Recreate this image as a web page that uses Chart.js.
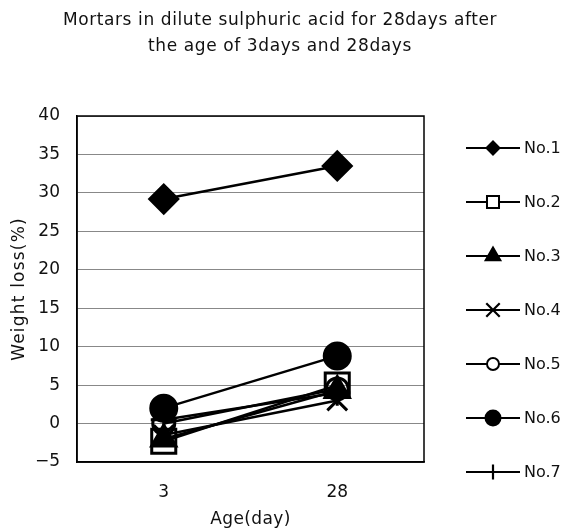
<!DOCTYPE html>
<html><head><meta charset="utf-8">
<script src="https://cdn.jsdelivr.net/npm/chart.js@4/dist/chart.umd.min.js"></script>
<style>html,body{margin:0;padding:0;background:#fff;}canvas{display:block;}</style>
</head><body>
<canvas id="c" width="566" height="531"></canvas>
<script>
const categories = ["3", "28"];
const seriesNames = ["No.1", "No.2", "No.3", "No.4", "No.5", "No.6", "No.7"];
const no1 = [29.2, 33.5];
const no2 = [-2.3, 5.0];
const no3 = [-2.0, 4.3];
const no4 = [-1.5, 3.0];
const no5 = [0.0, 4.5];
const no6 = [2.0, 8.8];
const no7 = [0.5, 4.0];
const yTicks = [-5, 0, 5, 10, 15, 20, 25, 30, 35, 40];
const titleLines = ["Mortars in dilute sulphuric acid for 28days after", "the age of 3days and 28days"];
const xTitle = "Age(day)";
const yTitle = "Weight loss(%)";

const FONT = "'DejaVu Sans', sans-serif";
const TXT = '#111';
const styles = [
  {pointStyle:'rectRot', radius:14, fill:'#000', lr:6.5, lw:2},
  {pointStyle:'rect', radius:17, fill:'rgba(0,0,0,0)', lr:8.5, lw:2},
  {pointStyle:'triangle', radius:14, fill:'#000', lr:8.5, lw:2},
  {pointStyle:'crossRot', radius:14, fill:'#000', lr:9.5, lw:2.2},
  {pointStyle:'circle', radius:11, fill:'rgba(0,0,0,0)', lr:6, lw:2},
  {pointStyle:'circle', radius:13, fill:'#000', lr:7.5, lw:2},
  {pointStyle:'cross', radius:13, fill:'#000', lr:7.5, lw:2.2}
];
const values = [no1, no2, no3, no4, no5, no6, no7];

const datasets = values.map((v, i) => ({
  label: seriesNames[i],
  data: v,
  borderColor: '#000',
  borderWidth: 2.5,
  pointStyle: styles[i].pointStyle,
  pointRadius: styles[i].radius,
  pointHoverRadius: styles[i].radius,
  pointBackgroundColor: styles[i].fill,
  pointBorderColor: '#000',
  pointBorderWidth: 3,
  tension: 0,
  fill: false
}));

function spaced(ctx, text, x, y, spacing) {
  ctx.letterSpacing = spacing + 'px';
  ctx.fillText(text, x, y);
  ctx.letterSpacing = '0px';
}

const framePlugin = {
  id: 'frame',
  beforeDatasetsDraw(chart) {
    const {ctx, chartArea: a} = chart;
    ctx.save();
    ctx.strokeStyle = '#000';
    ctx.lineWidth = 1.5;
    ctx.strokeRect(a.left, a.top, a.right - a.left, a.bottom - a.top);
    ctx.restore();
  },
  afterDraw(chart) {
    const ctx = chart.ctx;
    const a = chart.chartArea;
    ctx.save();
    ctx.fillStyle = TXT;
    ctx.textAlign = 'center';
    ctx.textBaseline = 'middle';
    ctx.font = "17px " + FONT;
    spaced(ctx, titleLines[0], 280, 21, 0.6);
    spaced(ctx, titleLines[1], 280, 47, 0.6);
    // axis titles
    spaced(ctx, xTitle, (a.left + a.right) / 2, 520, 0.4);
    ctx.save();
    ctx.translate(20, (a.top + a.bottom) / 2);
    ctx.rotate(-Math.PI / 2);
    spaced(ctx, yTitle, 0, 0, 1.2);
    ctx.restore();
    // legend
    const x0 = 466, x1 = 520, cx = 493;
    seriesNames.forEach((name, i) => {
      const y = 148 + i * 54;
      ctx.strokeStyle = '#000';
      ctx.lineWidth = 2;
      ctx.beginPath(); ctx.moveTo(x0, y); ctx.lineTo(x1, y); ctx.stroke();
      ctx.fillStyle = styles[i].fill === '#000' ? '#000' : '#fff';
      ctx.lineWidth = styles[i].lw;
      Chart.helpers.drawPoint(ctx, {pointStyle: styles[i].pointStyle, radius: styles[i].lr, rotation: 0, borderWidth: styles[i].lw}, cx, y);
      ctx.fillStyle = TXT;
      ctx.font = "16px " + FONT;
      ctx.textAlign = 'left';
      ctx.textBaseline = 'middle';
      ctx.fillText(name, 524, y + 1);
    });
    ctx.restore();
  }
};

new Chart(document.getElementById('c'), {
  type: 'line',
  data: { labels: categories, datasets: datasets },
  options: {
    responsive: false,
    animation: false,
    events: [],
    layout: { padding: { top: 116, right: 142, left: 0, bottom: 0 } },
    plugins: { legend: { display: false }, tooltip: { enabled: false }, title: { display: false } },
    scales: {
      x: {
        type: 'category',
        offset: true,
        afterFit(s) { s.height = 69; },
        grid: { display: false, drawTicks: false },
        border: { display: true, color: '#000', width: 1.5 },
        ticks: { color: TXT, font: { family: FONT, size: 17 }, padding: 20 },
        title: { display: false }
      },
      y: {
        min: -5, max: 40,
        afterBuildTicks(s) { s.ticks = yTicks.map(v => ({ value: v })); },
        afterFit(s) { s.width = 77; },
        grid: { color: '#888', lineWidth: 1, drawTicks: false },
        border: { display: true, color: '#000', width: 1.5 },
        ticks: { color: TXT, font: { family: FONT, size: 17 }, padding: 17,
                 callback: (v) => (v < 0 ? '\u2212' + Math.abs(v) : String(v)) },
        title: { display: false }
      }
    }
  },
  plugins: [framePlugin]
});
</script>
</body></html>
